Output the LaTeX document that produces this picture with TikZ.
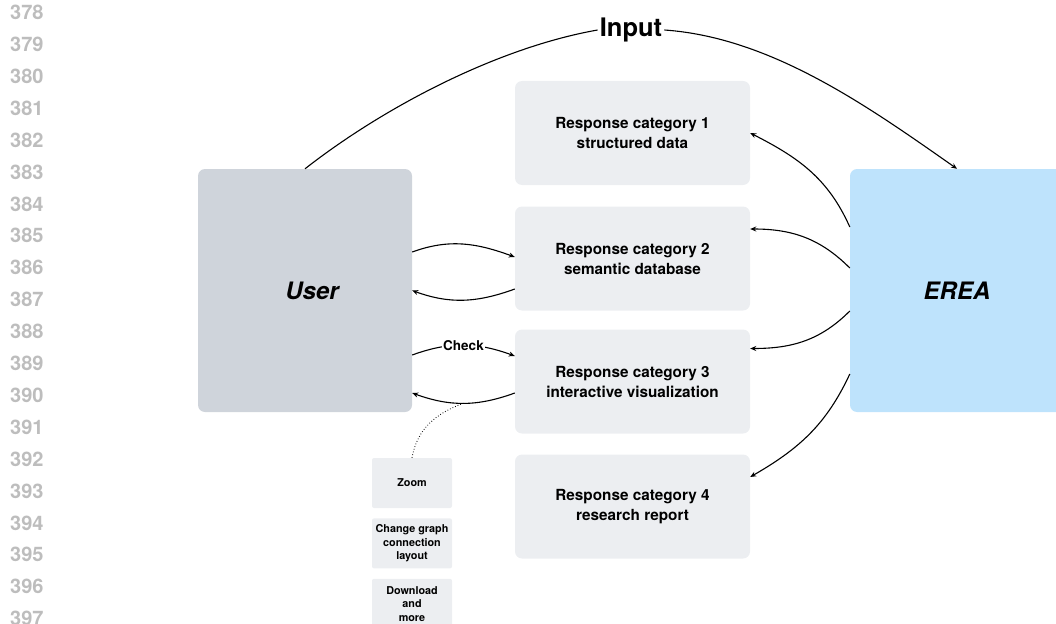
\documentclass[tikz,border=0pt]{standalone}
\usepackage{fontspec}
\setsansfont{TeX Gyre Heros}
\usetikzlibrary{arrows.meta,positioning}

\definecolor{userfill}{HTML}{CFD4DB}
\definecolor{ereafill}{HTML}{BEE3FC}
\definecolor{respfill}{HTML}{ECEEF1}
\definecolor{linenum}{HTML}{BDBDBD}

\tikzset{
	panel/.style={rectangle, rounded corners=7pt, minimum width=214pt, minimum height=243pt,
		font=\sffamily\bfseries\itshape\fontsize{24}{30}\selectfont},
	resp/.style={rectangle, rounded corners=7pt, fill=respfill, minimum width=235pt,
		minimum height=104pt, align=center, font=\sffamily\bfseries\fontsize{15.3}{20}\selectfont},
	tool/.style={rectangle, rounded corners=2pt, fill=respfill, minimum width=80pt,
		minimum height=50pt, align=center, font=\sffamily\bfseries\fontsize{10.8}{13.5}\selectfont},
	flow/.style={-{Stealth[length=6pt,width=5pt]}, line width=1.1pt},
	lineno/.style={anchor=west, inner sep=0pt, text=linenum, font=\sffamily\bfseries\fontsize{20}{22}\selectfont}
}

\begin{document}
\begin{tikzpicture}[x=1pt,y=-1pt]

	\useasboundingbox (0,0) rectangle (1056,623);

	% line numbers
	\foreach \n [evaluate=\n as \num using int(378+\n)] in {0,...,19}
		\node[lineno] (ln\n) at (10,{12.5+31.9*\n}) {\num};

	% the two sides
	\node[panel, fill=userfill] (user) at (305,290.5) {\hspace*{14pt}User};
	\node[panel, fill=ereafill] (erea) at (957,290.5) {EREA};

	% response categories
	\node[resp] (cat1) at (632.5,133)   {Response category 1\\structured data};
	\node[resp] (cat2) at (632.5,258.5) {Response category 2\\semantic database};
	\node[resp] (cat3) at (632.5,381.5) {Response category 3\\interactive visualization};
	\node[resp] (cat4) at (632.5,506.5) {Response category 4\\research report};

	% interaction tools
	\node[tool] (zoom) at (412,483) {Zoom};
	\node[tool, below=10pt of zoom] (layout) {Change graph\\connection\\layout};
	\node[tool, below=10pt of layout] (more) {Download\\and\\more};

	% input
	\node[font=\sffamily\bfseries\fontsize{25.5}{28}\selectfont, inner sep=2pt] (input) at (631,30) {Input};
	\draw[line width=1.1pt] (user.north) to[out=38,in=190,looseness=0.8] (input.west);
	\draw[flow] (input.east) to[out=-4,in=145,looseness=0.85] (erea.north);

	% EREA answers
	\draw[flow] ([yshift=63.5pt]erea.west)  to[out=114,in=-27] (cat1.east);
	\draw[flow] ([yshift=22.5pt]erea.west)  to[out=135,in=0]   ([yshift=29.5pt]cat2.east);
	\draw[flow] ([yshift=-20.5pt]erea.west) to[out=-135,in=0]  ([yshift=33pt]cat3.east);
	\draw[flow] ([yshift=-83.5pt]erea.west) to[out=-115,in=30] ([yshift=29.5pt]cat4.east);

	% user and category 2
	\draw[flow] ([yshift=38.5pt]user.east) to[out=20,in=160] ([yshift=1.5pt]cat2.west);
	\draw[flow] ([yshift=-30.5pt]cat2.west) to[out=-160,in=-20] (user.east);

	% user and category 3
	\draw[flow] ([yshift=-64.5pt]user.east) to[out=20,in=160]
		node[fill=white, inner sep=1pt, font=\sffamily\bfseries\fontsize{13.5}{16}\selectfont] (check) {Check}
		([yshift=25.5pt]cat3.west);
	\draw[flow] ([yshift=-11.5pt]cat3.west) to[out=-160,in=-20]
		coordinate[pos=0.5] (back) ([yshift=-102.5pt]user.east);

	% tools hang off the way back
	\draw[dotted, line width=0.8pt] (zoom.north) to[out=80,in=200] (back);

\end{tikzpicture}
\end{document}
